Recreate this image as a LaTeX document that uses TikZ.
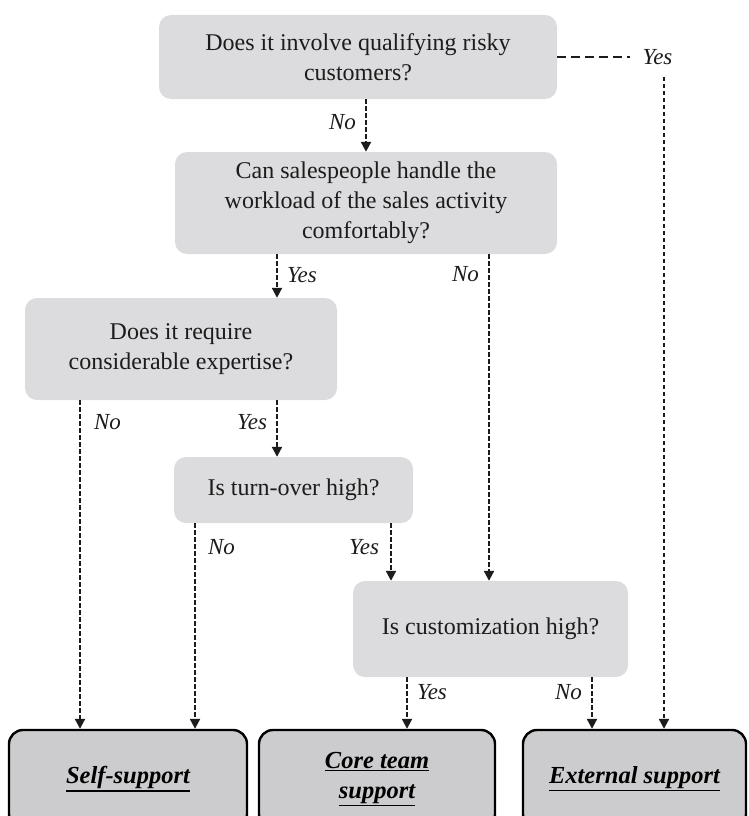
\documentclass[tikz,border=0pt]{standalone}
\usepackage{fontspec}
\setmainfont{Liberation Serif}
\usetikzlibrary{arrows.meta}
\definecolor{qfill}{RGB}{220,220,222}
\definecolor{afill}{RGB}{204,204,206}
\definecolor{ink}{RGB}{28,28,28}
% heavy underline for the outcome labels
\newcommand\heavyul[1]{\vtop{\hbox{#1}\kern1.2pt\hrule height 1.5pt}}
\begin{document}
\begin{tikzpicture}[x=1pt, y=-1pt,
  question/.style={fill=qfill, rounded corners=12pt, align=center, inner sep=0pt,
    font=\fontsize{24}{30}\selectfont, text=ink},
  answer/.style={fill=afill, draw=black, line width=2.4pt, rounded corners=14pt,
    align=center, inner sep=0pt, font=\fontsize{24.5}{28}\selectfont\bfseries\itshape},
  flow/.style={draw=ink, line width=2.1pt, dash pattern=on 4.5pt off 2.5pt,
    -{Triangle[width=10pt,length=10pt]}},
  lbl/.style={font=\fontsize{23}{25}\selectfont\itshape, text=ink, inner sep=0pt},
]
\useasboundingbox (0,0) rectangle (748,816);

% decision boxes
\node[question, minimum width=398pt, minimum height=84pt] (q1) at (358,57)
  {Does it involve qualifying risky\\customers?};
\node[question, minimum width=382pt, minimum height=102pt] (q2) at (366,203)
  {Can salespeople handle the\\workload of the sales activity\\comfortably?};
\node[question, minimum width=312pt, minimum height=102pt] (q3) at (181,349)
  {Does it require\\considerable expertise?};
\node[question, minimum width=239pt, minimum height=66pt] (q4) at (293.5,490)
  {Is turn-over high?};
\node[question, minimum width=275pt, minimum height=96pt] (q5) at (490.5,629)
  {Is customization high?};

% outcome boxes
\node[answer, minimum width=238pt, minimum height=98pt] (self) at (128,779)
  {\heavyul{Self-support}};
\node[answer, minimum width=236pt, minimum height=98pt] (core) at (377,779)
  {\heavyul{Core team}\\[2pt]\heavyul{support}};
\node[answer, minimum width=223pt, minimum height=98pt] (ext) at (634.5,779)
  {\heavyul{External support}};

% connector columns
\coordinate (cA) at (366,0);
\coordinate (cB) at (277,0);
\coordinate (cC) at (489,0);
\coordinate (cD) at (80,0);
\coordinate (cE) at (195,0);
\coordinate (cF) at (391,0);
\coordinate (cG) at (407,0);
\coordinate (cH) at (592,0);
\coordinate (cI) at (664,0);

% risky customers: yes branch
\node[lbl] (yes1) at (657.5,57) {Yes};
\draw[ink, line width=2.1pt, dash pattern=on 9pt off 5pt] (q1.east) -- ([xshift=-12pt]yes1.west);
\draw[flow, shorten <=12pt] (yes1.south -| cI) -- (ext.north -| cI);

\draw[flow] (q1.south -| cA) -- node[lbl, pos=0.43, left=9pt] {No} (q2.north -| cA);
\draw[flow] (q2.south -| cB) -- node[lbl, pos=0.47, right=9pt] {Yes} (q3.north -| cB);
\draw[flow] (q2.south -| cC) -- node[lbl, pos=0.06, left=9pt] {No} (q5.north -| cC);
\draw[flow] (q3.south -| cD) -- node[lbl, pos=0.067, right=13pt] {No} (self.north -| cD);
\draw[flow] (q3.south -| cB) -- node[lbl, pos=0.39, left=9pt] {Yes} (q4.north -| cB);
\draw[flow] (q4.south -| cE) -- node[lbl, pos=0.116, right=12pt] {No} (self.north -| cE);
\draw[flow] (q4.south -| cF) -- node[lbl, pos=0.41, left=11pt] {Yes} (q5.north -| cF);
\draw[flow] (q5.south -| cG) -- node[lbl, pos=0.28, right=9pt] {Yes} (core.north -| cG);
\draw[flow] (q5.south -| cH) -- node[lbl, pos=0.28, left=9pt] {No} (ext.north -| cH);
\end{tikzpicture}
\end{document}
